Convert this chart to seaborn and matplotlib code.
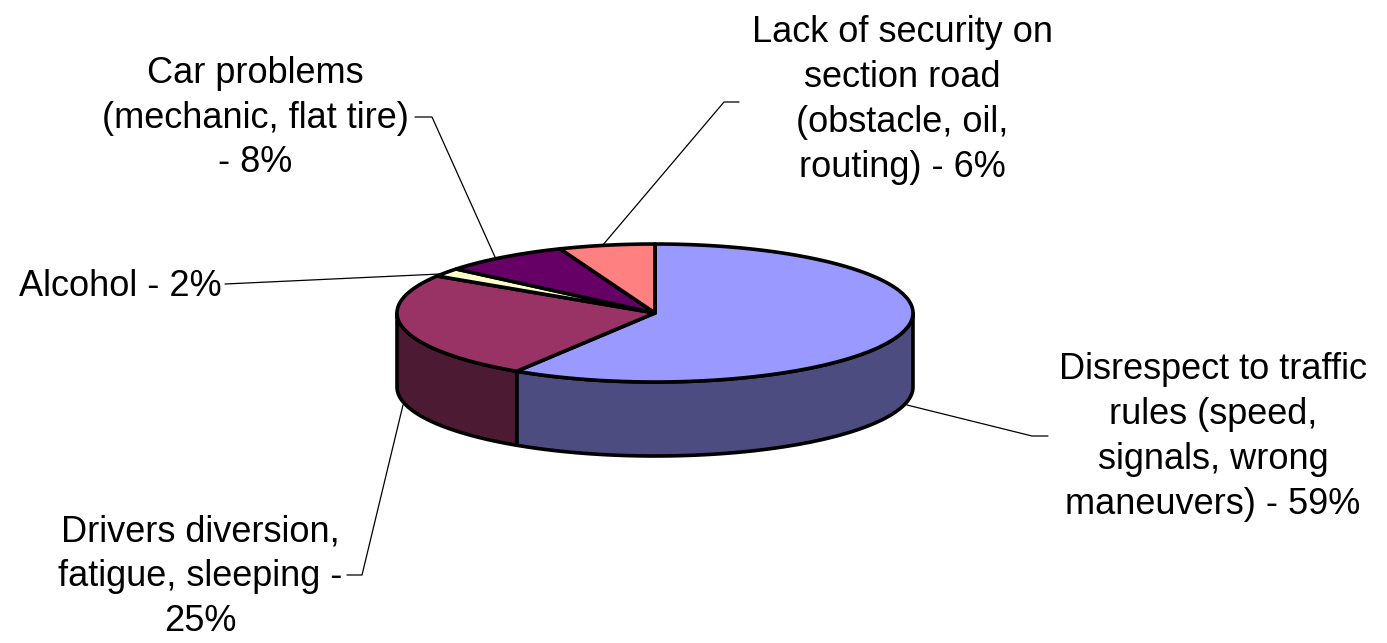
import numpy as np
import matplotlib
matplotlib.use("Agg")
import matplotlib.pyplot as plt
import seaborn as sns

# ---- data ----
categories = [
    "Disrespect to traffic\nrules (speed,\nsignals, wrong\nmaneuvers) - 59%",
    "Drivers diversion,\nfatigue, sleeping -\n25%",
    "Alcohol - 2%",
    "Car problems\n(mechanic, flat tire)\n- 8%",
    "Lack of security on\nsection road\n(obstacle, oil,\nrouting) - 6%",
]
values = [59, 25, 2, 8, 6]
top_colors = ["#9999FF", "#993366", "#FFFFCC", "#660066", "#FF8080"]
side_colors = ["#4C4C80", "#4D1A33", "#808066", "#330033", "#804040"]

# ---- layout ----
sns.set_style("white")
plt.rcParams["font.family"] = ["Liberation Sans", "DejaVu Sans"]

W, H = 1387, 643
fig = plt.figure(figsize=(W / 100, H / 100), dpi=100)
ax = fig.add_axes([0, 0, 1, 1])
ax.set_xlim(0, W)
ax.set_ylim(H, 0)
ax.axis("off")

cx, cy, rx, ry, depth = 655, 313, 258, 69, 74


def pt(theta, dy=0.0):
    t = np.deg2rad(theta)
    return cx + rx * np.cos(t), cy - ry * np.sin(t) + dy


fr = np.array(values, dtype=float) / np.sum(values)
cum = np.concatenate([[0], np.cumsum(fr)])
starts = 90 - 360 * cum[:-1]
ends = 90 - 360 * cum[1:]

# side walls (front half only)
for i in range(len(values)):
    hi, lo = starts[i], ends[i]
    for wlo, whi in [(-180, 0), (-540, -360)]:
        a, b = max(lo, wlo), min(hi, whi)
        if b > a:
            th = np.linspace(a, b, 200)
            xt, yt = pt(th)
            xb, yb = pt(th[::-1], depth)
            ax.fill(np.concatenate([xt, xb]), np.concatenate([yt, yb]),
                    facecolor=side_colors[i], edgecolor="black",
                    linewidth=2.6, joinstyle="round", zorder=2)

# top wedges
for i in range(len(values)):
    th = np.linspace(starts[i], ends[i], 300)
    xs, ys = pt(th)
    ax.fill(np.concatenate([[cx], xs]), np.concatenate([[cy], ys]),
            facecolor=top_colors[i], edgecolor="black",
            linewidth=2.6, joinstyle="round", zorder=3)

# labels with leader lines
label_pos = [(1213, 437), (200, 577), (120, 286), (255, 118), (902, 100)]
leaders = [
    [(907, 405), (1032, 436), (1048, 436)],
    [(403, 405), (362, 575), (347, 575)],
    [(440, 274), (225, 284)],
    [(495, 257), (432, 117), (415, 117)],
    [(602, 246), (724, 102), (739, 102)],
]
for i, lab in enumerate(categories):
    lx, ly = label_pos[i]
    ax.text(lx, ly, lab, ha="center", va="center", fontsize=26,
            color="black", linespacing=1.36, zorder=5)
    xs = [p[0] for p in leaders[i]]
    ys = [p[1] for p in leaders[i]]
    ax.plot(xs, ys, color="black", linewidth=0.9, zorder=4)

fig.savefig("out.png", dpi=100)
